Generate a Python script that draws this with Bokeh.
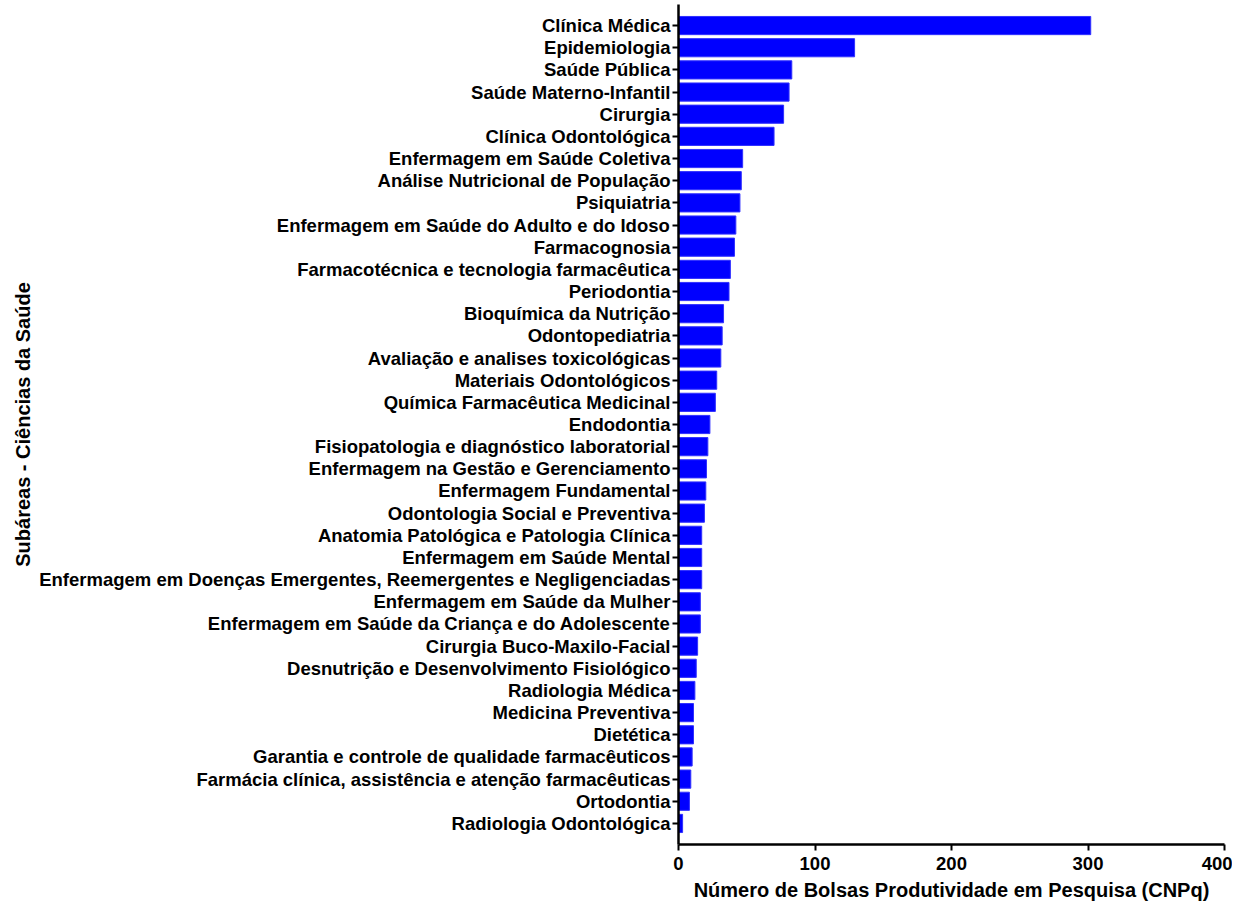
from bokeh.plotting import figure
from bokeh.models import FactorRange, Range1d
from bokeh.embed import file_html
from bokeh.resources import INLINE

subareas = [
    "Clínica Médica", "Epidemiologia", "Saúde Pública", "Saúde Materno-Infantil", "Cirurgia",
    "Clínica Odontológica", "Enfermagem em Saúde Coletiva", "Análise Nutricional de População",
    "Psiquiatria", "Enfermagem em Saúde do Adulto e do Idoso", "Farmacognosia",
    "Farmacotécnica e tecnologia farmacêutica", "Periodontia", "Bioquímica da Nutrição",
    "Odontopediatria", "Avaliação e analises toxicológicas", "Materiais Odontológicos",
    "Química Farmacêutica Medicinal", "Endodontia", "Fisiopatologia e diagnóstico laboratorial",
    "Enfermagem na Gestão e Gerenciamento", "Enfermagem Fundamental",
    "Odontologia Social e Preventiva", "Anatomia Patológica e Patologia Clínica",
    "Enfermagem em Saúde Mental", "Enfermagem em Doenças Emergentes, Reemergentes e Negligenciadas",
    "Enfermagem em Saúde da Mulher", "Enfermagem em Saúde da Criança e do Adolescente",
    "Cirurgia Buco-Maxilo-Facial", "Desnutrição e Desenvolvimento Fisiológico",
    "Radiologia Médica", "Medicina Preventiva", "Dietética",
    "Garantia e controle de qualidade farmacêuticos",
    "Farmácia clínica, assistência e atenção farmacêuticas", "Ortodontia",
    "Radiologia Odontológica",
]
bolsas = [302, 129, 83, 81, 77, 70, 47, 46, 45, 42, 41, 38, 37, 33, 32, 31, 28, 27, 23,
          21.5, 20.5, 20, 19, 17, 17, 17, 16, 16, 14, 13, 12, 11, 11, 10, 9, 8, 3]

FONT = "Liberation Sans"

p = figure(y_range=FactorRange(*reversed(subareas), range_padding=0.45,
                               range_padding_units="absolute"),
           x_range=Range1d(0, 400),
           frame_width=546, frame_height=840,
           min_border_left=678, min_border_top=4, min_border_right=8, min_border_bottom=4,
           output_backend="svg", toolbar_location=None)

p.hbar(y=subareas, right=bolsas, height=0.82, color="#0000ff",
       line_color="#3030ff")

p.xgrid.visible = False
p.ygrid.visible = False
p.outline_line_color = None

p.xaxis.ticker = [0, 100, 200, 300, 400]
p.xaxis.minor_tick_line_color = None
p.xaxis.axis_label = "Número de Bolsas Produtividade em Pesquisa (CNPq)"
p.yaxis.axis_label = "Subáreas - Ciências da Saúde"

for ax in (p.xaxis, p.yaxis):
    ax.axis_line_width = 2.5
    ax.major_tick_line_width = 2
    ax.major_tick_out = 6
    ax.major_tick_in = 0
    ax.axis_line_color = "black"
    ax.major_tick_line_color = "black"
    ax.major_label_text_font = FONT
    ax.major_label_text_font_style = "bold"
    ax.major_label_text_font_size = "18.5px"
    ax.major_label_text_color = "black"
    ax.axis_label_text_font = FONT
    ax.axis_label_text_font_style = "bold"
    ax.axis_label_text_font_size = "20px"
    ax.axis_label_text_color = "black"

p.yaxis.major_label_standoff = 2
p.yaxis.axis_label_standoff = 2
p.xaxis.major_label_standoff = 6
p.xaxis.axis_label_standoff = 6

open("out.html", "w").write(file_html(p, INLINE))
